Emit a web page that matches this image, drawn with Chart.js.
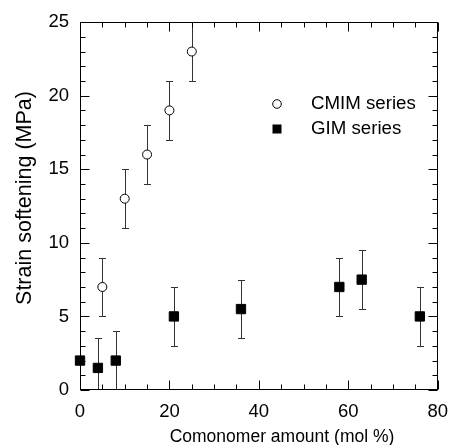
<!DOCTYPE html>
<html><head><meta charset="utf-8">
<script src="https://cdn.jsdelivr.net/npm/chart.js@4/dist/chart.umd.min.js"></script>
<style>html,body{margin:0;padding:0;background:#fff}canvas{display:block}</style>
</head><body>
<canvas id="c" width="459" height="445"></canvas>
<script>
// ---- data ----
const cmimX = [5, 10, 15, 20, 25];
const cmimY = [7, 13, 16, 19, 23];
const cmimErr = [2, 2, 2, 2, 2];
const gimX = [0, 4, 8, 21, 36, 58, 63, 76];
const gimY = [2, 1.5, 2, 5, 5.5, 7, 7.5, 5];
const gimErr = [0, 2, 2, 2, 2, 2, 2, 2];
const seriesNames = ['CMIM series', 'GIM series'];
const xMajorTicks = [0, 20, 40, 60, 80];
const xMinorTicks = [0, 5, 10, 15, 20, 25, 30, 35, 40, 45, 50, 55, 60, 65, 70, 75, 80];
const yMajorTicks = [0, 5, 10, 15, 20, 25];
const yMinorTicks = [0, 1, 2, 3, 4, 5, 6, 7, 8, 9, 10, 11, 12, 13, 14, 15, 16, 17, 18, 19, 20, 21, 22, 23, 24, 25];
const xTitle = 'Comonomer amount (mol %)';
const yTitle = 'Strain softening (MPa)';

const FONT = '"Liberation Sans", Arial, Helvetica, sans-serif';
Chart.defaults.font.family = FONT;
Chart.defaults.color = '#000';

const pts = (xs, ys) => xs.map((v, i) => ({ x: v, y: ys[i] }));

const framePlugin = {
  id: 'frame',
  beforeDatasetsDraw(chart) {
    const { ctx, chartArea: a, scales: { x, y } } = chart;
    ctx.save();
    ctx.beginPath();
    ctx.rect(a.left, a.top - 1, a.right - a.left, a.bottom - a.top + 1);
    ctx.clip();
    ctx.strokeStyle = '#333';
    ctx.lineWidth = 1;
    chart.data.datasets.forEach(ds => {
      ds.data.forEach((p, i) => {
        const e = ds.err[i];
        if (!e) return;
        const px = Math.round(x.getPixelForValue(p.x)) + 0.5;
        const y1 = Math.round(y.getPixelForValue(p.y + e)) + 0.5;
        const y0 = Math.round(y.getPixelForValue(p.y - e)) + 0.5;
        ctx.beginPath();
        ctx.moveTo(px, y1); ctx.lineTo(px, y0);
        ctx.moveTo(px - 3.5, y1); ctx.lineTo(px + 3.5, y1);
        ctx.moveTo(px - 3.5, y0); ctx.lineTo(px + 3.5, y0);
        ctx.stroke();
      });
    });
    ctx.restore();
  },
  afterDraw(chart) {
    const { ctx, chartArea: a, scales: { x, y } } = chart;
    ctx.save();
    ctx.strokeStyle = '#000';
    ctx.lineWidth = 1;
    const L = Math.round(a.left) + 0.5, R = Math.round(a.right) - 0.5;
    const T = Math.round(a.top) + 0.5, B = Math.round(a.bottom) - 0.5;
    ctx.strokeRect(L, T, R - L, B - T);
    ctx.beginPath();
    xMinorTicks.forEach(v => {
      const len = xMajorTicks.includes(v) ? 9 : 5;
      const px = Math.round(x.getPixelForValue(v)) + 0.5;
      ctx.moveTo(px, B); ctx.lineTo(px, B - len);
      ctx.moveTo(px, T); ctx.lineTo(px, T + len);
    });
    yMinorTicks.forEach(v => {
      const len = yMajorTicks.includes(v) ? 9 : 5;
      const py = Math.round(y.getPixelForValue(v)) + 0.5;
      ctx.moveTo(L, py); ctx.lineTo(L + len, py);
      ctx.moveTo(R, py); ctx.lineTo(R - len, py);
    });
    ctx.stroke();

    // legend
    ctx.fillStyle = '#000';
    ctx.font = '18.7px ' + FONT;
    ctx.textBaseline = 'middle';
    ctx.textAlign = 'left';
    ctx.beginPath();
    ctx.arc(277, 104, 4.3, 0, Math.PI * 2);
    ctx.fillStyle = '#fff'; ctx.fill();
    ctx.strokeStyle = '#000'; ctx.stroke();
    ctx.fillStyle = '#000';
    ctx.fillRect(272.5, 124.5, 9, 9);
    ctx.fillText(chart.data.datasets[0].label, 311, 104);
    ctx.fillText(chart.data.datasets[1].label, 311, 129);

    // axis titles
    ctx.font = '17.5px ' + FONT;
    ctx.textAlign = 'center';
    ctx.fillText(xTitle, 282, 437);
    ctx.save();
    ctx.translate(25, 198);
    ctx.rotate(-Math.PI / 2);
    ctx.font = '21.5px ' + FONT;
    ctx.fillText(yTitle, 0, 0);
    ctx.restore();
    ctx.restore();
  }
};

new Chart(document.getElementById('c'), {
  type: 'scatter',
  data: {
    datasets: [
      {
        label: seriesNames[0],
        data: pts(cmimX, cmimY),
        err: cmimErr,
        pointStyle: 'circle',
        pointRadius: 4.5,
        pointBackgroundColor: '#fff',
        pointBorderColor: '#000',
        pointBorderWidth: 1,
        clip: false
      },
      {
        label: seriesNames[1],
        data: pts(gimX, gimY),
        err: gimErr,
        pointStyle: 'rect',
        pointRadius: 6.6,
        pointBackgroundColor: '#000',
        pointBorderColor: '#000',
        pointBorderWidth: 1,
        clip: false
      }
    ]
  },
  options: {
    responsive: false,
    animation: false,
    layout: { padding: { left: 0, right: 9, top: 22, bottom: 0 } },
    plugins: { legend: { display: false }, tooltip: { enabled: false } },
    scales: {
      x: {
        type: 'linear', min: 0, max: 80,
        afterBuildTicks: s => { s.ticks = xMajorTicks.map(v => ({ value: v })); },
        afterFit: s => { s.height = 55; },
        grid: { display: false, drawTicks: false },
        border: { display: false },
        ticks: { font: { size: 18.5 }, color: '#000', padding: 11, maxRotation: 0 }
      },
      y: {
        type: 'linear', min: 0, max: 25,
        afterBuildTicks: s => { s.ticks = yMajorTicks.map(v => ({ value: v })); },
        afterFit: s => { s.width = 80; },
        grid: { display: false, drawTicks: false },
        border: { display: false },
        ticks: { font: { size: 18.5 }, color: '#000', padding: 11 }
      }
    }
  },
  plugins: [framePlugin]
});
</script>
</body></html>
